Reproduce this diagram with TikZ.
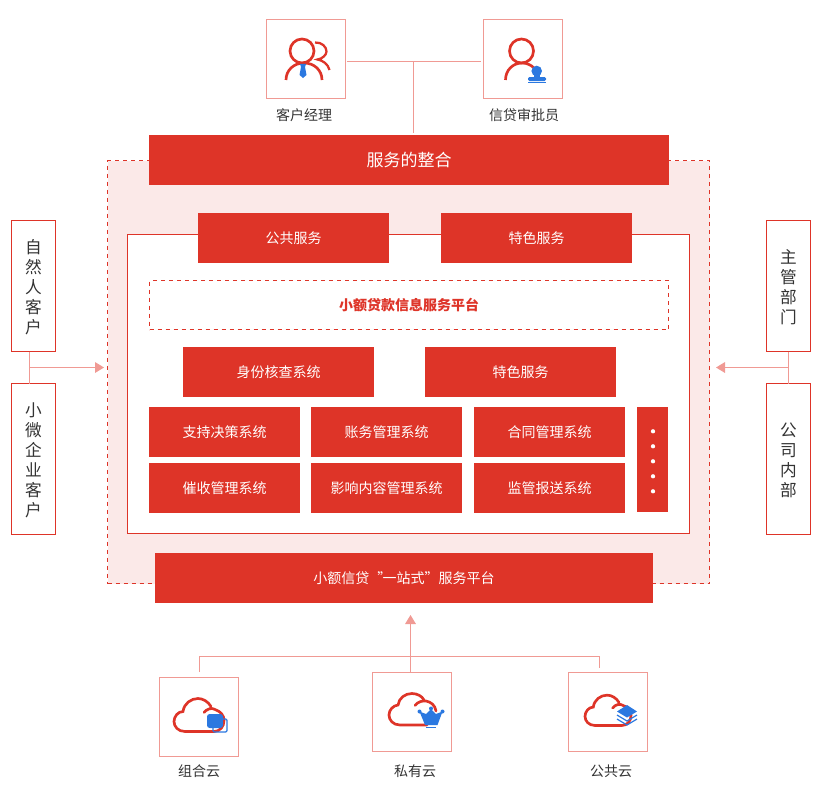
\documentclass[tikz,border=0pt]{standalone}
\usepackage{fontspec}
\setmainfont{Noto Sans CJK SC}
\usetikzlibrary{arrows.meta}
\definecolor{brand}{HTML}{DE3428}
\definecolor{soft}{HTML}{F09A94}
\definecolor{tint}{HTML}{FBE9E8}
\definecolor{accent}{HTML}{2B78E0}
\definecolor{ink}{HTML}{333333}
\tikzset{
  x=0.75pt,y=-0.75pt,
  every node/.style={inner sep=0,outer sep=0,text=ink},
  redbox/.style={fill=brand,text=white,font=\fontsize{10.5pt}{13pt}\selectfont},
  iconbox/.style={draw=soft,line width=0.75pt,minimum width=59.25pt,minimum height=59.25pt},
  sidebox/.style={draw=brand,line width=0.75pt,minimum width=33pt},
  sidetext/.style={yshift=-1.1pt,align=center,font=\fontsize{12.5pt}{15pt}\selectfont},
  caption/.style={font=\fontsize{10.5pt}{13pt}\selectfont},
  link/.style={draw=soft,line width=0.75pt},
  linkarrow/.style={link,-{Triangle[length=6.75pt,width=8pt,fill=soft]}},
  iconline/.style={draw=brand,line width=2pt,line cap=round},
  dotmark/.style={circle,fill=white,minimum size=3.2pt},
}
\newcommand{\cloudpath}{(30,-19) .. controls (33,-23) and (38,-24) .. (41,-22)
  .. controls (47,-20) and (50,-16) .. (50,-11)
  .. controls (50,-5) and (46,0) .. (40,0) -- (11,0)
  .. controls (4,0) and (0,-5) .. (0,-10)
  .. controls (0,-15) and (4,-20) .. (9,-20)
  .. controls (10,-28) and (17,-33) .. (24,-33)
  .. controls (29,-33) and (34,-30) .. (37,-25)}
\begin{document}
\begin{tikzpicture}
\useasboundingbox (0,0) rectangle (823,792);
% large panels
\node[draw=brand,dashed,fill=tint,line width=0.75pt,minimum width=451.5pt,minimum height=317.25pt] (panel) at (408.5,372) {};
\node[draw=brand,fill=white,line width=0.75pt,minimum width=421.5pt,minimum height=224.25pt] (inner) at (408.5,384) {};
% top icons
\node[iconbox] (mgr) at (306,59) {};
\node[iconbox] (audit) at (523,59) {};
\node[caption] (mgrt) at (304,115) {客户经理};
\node[caption] (auditt) at (524,115) {信贷审批员};
\node[redbox,font=\fontsize{12.75pt}{16pt}\selectfont,minimum width=390pt,minimum height=37.5pt] (integ) at (409,160) {服务的整合};
\coordinate (topj) at (413,61.5);
\coordinate (mgre) at (347,61.5);
\coordinate (audw) at (481,61.5);
\coordinate (integt) at (413,133);
\draw[link] (mgre) -- (audw);
\draw[link] (topj) -- (integt);
% inner boxes
\node[redbox,minimum width=143.25pt,minimum height=37.5pt] (pub) at (293.5,238) {公共服务};
\node[redbox,minimum width=143.25pt,minimum height=37.5pt] (spec) at (536.5,238) {特色服务};
\node[draw=brand,dashed,line width=0.75pt,minimum width=389.25pt,minimum height=36.75pt,text=brand,font=\fontsize{10.5pt}{13pt}\selectfont\bfseries] (info) at (409,305) {小额贷款信息服务平台};
\node[redbox,minimum width=143.25pt,minimum height=37.5pt] (idc) at (278.5,372) {身份核查系统};
\node[redbox,minimum width=143.25pt,minimum height=37.5pt] (spec2) at (520.5,372) {特色服务};
\node[redbox,minimum width=113.25pt,minimum height=37.5pt] (a1) at (224.5,432) {支持决策系统};
\node[redbox,minimum width=113.25pt,minimum height=37.5pt] (a2) at (386.5,432) {账务管理系统};
\node[redbox,minimum width=113.25pt,minimum height=37.5pt] (a3) at (549.5,432) {合同管理系统};
\node[redbox,minimum width=113.25pt,minimum height=37.5pt] (b1) at (224.5,488) {催收管理系统};
\node[redbox,minimum width=113.25pt,minimum height=37.5pt] (b2) at (386.5,488) {影响内容管理系统};
\node[redbox,minimum width=113.25pt,minimum height=37.5pt] (b3) at (549.5,488) {监管报送系统};
\node[fill=brand,minimum width=23.25pt,minimum height=78.75pt] (more) at (652.5,459.5) {};
\node[dotmark] (d1) at (653,431.3) {};
\node[dotmark] (d2) at (653,446.3) {};
\node[dotmark] (d3) at (653,461.3) {};
\node[dotmark] (d4) at (653,476.3) {};
\node[dotmark] (d5) at (653,491.3) {};
\node[redbox,minimum width=373.5pt,minimum height=37.5pt] (one) at (404,578) {小额信贷\kern6pt”\kern-6.5pt 一站式”服务平台};
% side boxes
\node[sidebox,minimum height=98.25pt,label={[sidetext]center:自\\然\\人\\客\\户}] (l1) at (33.5,286) {};
\node[sidebox,minimum height=113.25pt,label={[sidetext]center:小\\微\\企\\业\\客\\户}] (l2) at (33.5,459) {};
\node[sidebox,minimum height=98.25pt,label={[sidetext]center:主\\管\\部\\门}] (r1) at (788.5,286) {};
\node[sidebox,minimum height=113.25pt,label={[sidetext]center:公\\司\\内\\部}] (r2) at (788.5,459) {};
\coordinate (lj) at (29.5,367.5);
\coordinate (rj) at (788.5,367.5);
\coordinate (lt) at (104,367.5);
\coordinate (rt) at (716,367.5);
\draw[link] (lj |- l1.south) -- (lj |- l2.north);
\draw[link] (rj |- r1.south) -- (rj |- r2.north);
\draw[linkarrow] (lj) -- (lt);
\draw[linkarrow] (rj) -- (rt);
% bottom icons
\node[iconbox] (c1) at (199,717) {};
\node[iconbox] (c2) at (412,712) {};
\node[iconbox] (c3) at (608,712) {};
\node[caption] (c1t) at (199,771) {组合云};
\node[caption] (c2t) at (415,771) {私有云};
\node[caption] (c3t) at (611,771) {公共云};
\coordinate (bj) at (410.5,656.5);
\coordinate (bt) at (410.5,615);
\coordinate (bl) at (199.5,656.5);
\coordinate (br) at (599.5,656.5);
\coordinate (ble) at (199.5,672);
\coordinate (bre) at (599.5,668);
\draw[link] (ble) -- (bl) -- (br) -- (bre);
\draw[linkarrow] (c2.north -| bj) -- (bt);
% person icon 1
\draw[iconline,line cap=butt] (302,51) circle (12);
\draw[iconline,line cap=butt] (286,80) .. controls (286,70) and (294,63) .. (304,63) .. controls (314,63) and (322,70) .. (322,80);
\draw[draw=brand,line width=1.7pt] (315,42.5) .. controls (322,42) and (326.5,47) .. (326.5,51.5) .. controls (326.5,55) and (322,59) .. (317.5,59.5) .. controls (323,60.5) and (328,64) .. (329.5,70);
\fill[accent] (300,64) -- (306,64) -- (305,67) -- (306.5,75) -- (303,78) -- (299.5,75) -- (301,67) -- cycle;
% person icon 2
\draw[iconline,line cap=butt] (521.5,51) circle (12);
\draw[iconline,line cap=butt] (505.5,80) .. controls (505.5,70) and (513,63) .. (522,63) .. controls (527,63) and (531,65) .. (534,68);
\fill[accent] (536.7,71) circle (5.3);
\fill[accent] (534,74) rectangle (540,78);
\fill[accent,rounded corners=1pt] (528,77) rectangle (546,81);
\fill[accent] (528,82) rectangle (546,83);
% cloud 1
\begin{scope}[shift={(174,731.5)}]
\draw[iconline] \cloudpath;
\end{scope}
\draw[accent,line width=0.9pt,rounded corners=1pt] (213,727.5) -- (213,732) -- (227,732) -- (227,719) -- (223,719);
\fill[accent,rounded corners=2pt] (207,714) rectangle (223,728);
% cloud 2
\draw[iconline] (415,705.5) .. controls (418,701.5) and (423,700.5) .. (426,701) .. controls (431,702) and (435,705) .. (436,711);
\draw[iconline] (427,725) -- (400,725) .. controls (393,725) and (389,720) .. (389,715) .. controls (389,710) and (393,705.5) .. (398,705) .. controls (399,698) and (405,693.5) .. (412,693.5) .. controls (417,693.5) and (422,696) .. (424,700);
\fill[accent] (419.5,711.5) -- (426,714) -- (431,709) -- (436,714) -- (442.5,711.5) -- (437.5,725) -- (425,725) -- cycle;
\fill[accent] (419.5,711.5) circle (2) (431,708.5) circle (2) (442.5,711.5) circle (2);
\fill[accent] (426,727) rectangle (436,728);
% cloud 3
\begin{scope}[shift={(585,725.5)},scale=0.92]
\draw[iconline] \cloudpath;
\end{scope}
\fill[accent] (617,711.5) -- (627,705) -- (637,711.5) -- (627,717.5) -- cycle;
\draw[accent,line width=0.9pt] (617,715) -- (627,721) -- (637,715);
\draw[accent,line width=0.9pt] (617,719) -- (627,725) -- (637,719);
\end{tikzpicture}
\end{document}
